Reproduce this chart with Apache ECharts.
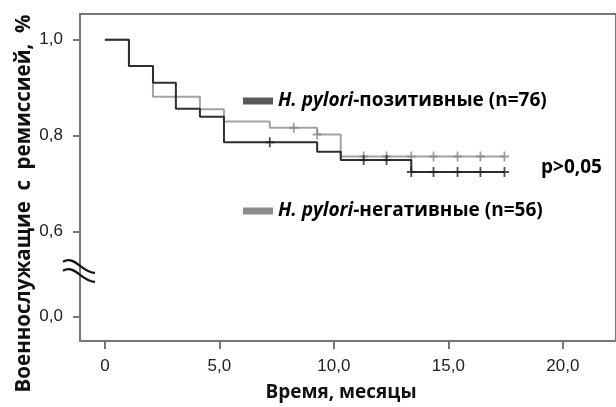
<!DOCTYPE html>
<html>
<head>
<meta charset="utf-8">
<script src="https://cdn.jsdelivr.net/npm/echarts@6/dist/echarts.min.js"></script>
<style>
  html, body { margin: 0; padding: 0; background: #fff; }
  #main { width: 616px; height: 407px; }
</style>
</head>
<body>
<div id="main"></div>
<script>
// Kaplan-Meier curves (time in months, share in remission)
const posName = "H. pylori-позитивные (n=76)";
const negName = "H. pylori-негативные (n=56)";

const posTimes = [0, 1.05, 2.1, 3.1, 4.15, 5.2, 9.27, 10.3, 13.38, 17.45];
const posSurv = [1.0, 0.945, 0.91, 0.856, 0.839, 0.786, 0.766, 0.749, 0.724, 0.724];
const posCensorTimes = [7.2, 11.3, 12.3, 13.38, 14.35, 15.4, 16.4, 17.45];
const posCensorSurv = [0.786, 0.749, 0.749, 0.724, 0.724, 0.724, 0.724, 0.724];

const negTimes = [0, 1.05, 2.1, 4.15, 5.2, 7.2, 9.27, 10.3, 17.45];
const negSurv = [1.0, 0.945, 0.881, 0.855, 0.829, 0.816, 0.802, 0.756, 0.756];
const negCensorTimes = [8.25, 9.27, 11.3, 12.3, 13.38, 14.35, 15.4, 16.4, 17.45];
const negCensorSurv = [0.816, 0.802, 0.756, 0.756, 0.756, 0.756, 0.756, 0.756, 0.756];

const xTicks = [0, 5, 10, 15, 20];
const yTicks = [1.0, 0.8, 0.6, 0.0];
const pText = "p>0,05";

// y axis is broken between 0.0 and 0.6: 0.0 sits a bit below 0.6
const BREAK_ZERO = 0.4227;
function mapY(v) { return v >= 0.6 ? v : BREAK_ZERO; }

function pairs(xs, ys) { return xs.map((x, i) => [x, ys[i]]); }

const plus = "path://M4,0L6,0L6,4L10,4L10,6L6,6L6,10L4,10L4,6L0,6L0,4L4,4Z";
const font = "'Open Sans', sans-serif";
const numFont = "'Liberation Sans', Arial, sans-serif";

const legendRich = {
  i: { fontStyle: "italic", fontWeight: "bold", fontSize: 19, fontFamily: font, color: "#000" },
  b: { fontWeight: "bold", fontSize: 19, fontFamily: font, color: "#000" }
};
function legendFmt(name) {
  const k = name.indexOf("-");
  return "{i|" + name.slice(0, k) + "}{b|" + name.slice(k) + "}";
}

const chart = echarts.init(document.getElementById("main"));

chart.setOption({
  animation: false,
  grid: {
    left: 80, top: 14, width: 560, height: 331,
    show: true, borderColor: "#777", borderWidth: 2
  },
  xAxis: {
    type: "value", min: -1.087, max: 22.32,
    axisLine: { show: false, onZero: false },
    splitLine: { show: false },
    axisTick: { length: 8, customValues: xTicks, lineStyle: { color: "#777", width: 2 } },
    axisLabel: {
      customValues: xTicks, margin: 17, fontSize: 17, fontFamily: numFont, color: "#222",
      formatter: v => v === 0 ? "0" : v.toFixed(1).replace(".", ",")
    },
    name: "Время, месяцы", nameLocation: "middle", nameGap: 42, nameMoveOverlap: false,
    nameTextStyle: { fontSize: 19, fontWeight: "bold", fontFamily: font, color: "#111", padding: [0, 14, 0, 0] }
  },
  yAxis: {
    type: "value", min: 0.3711, max: 1.0536,
    axisLine: { show: false, onZero: false },
    splitLine: { show: false },
    axisTick: { length: 7, customValues: yTicks.map(mapY), lineStyle: { color: "#777", width: 2 } },
    axisLabel: {
      customValues: yTicks.map(mapY), margin: 17, fontSize: 17, fontFamily: numFont, color: "#222",
      formatter: v => v < 0.5 ? "0,0" : v.toFixed(1).replace(".", ",")
    },
    name: "Военнослужащие  с  ремиссией,  %", nameLocation: "middle", nameGap: 45, nameMoveOverlap: false,
    nameTextStyle: { fontSize: 20.5, fontWeight: "bold", fontFamily: font, color: "#111", padding: [0, 52, 0, 0] }
  },
  legend: [
    {
      left: 243, top: 89, padding: 0, itemWidth: 30, itemHeight: 7, itemGap: 6,
      icon: "rect", selectedMode: false,
      data: [{ name: posName, itemStyle: { color: "#595959" } }],
      formatter: legendFmt, textStyle: { rich: legendRich, lineHeight: 24 }
    },
    {
      left: 243, top: 199, padding: 0, itemWidth: 30, itemHeight: 7, itemGap: 6,
      icon: "rect", selectedMode: false,
      data: [{ name: negName, itemStyle: { color: "#8c8c8c" } }],
      formatter: legendFmt, textStyle: { rich: legendRich, lineHeight: 24 }
    }
  ],
  title: {
    text: pText, left: 541, top: 158, padding: 0,
    textStyle: { fontSize: 19, fontWeight: "bold", fontFamily: font, color: "#000" }
  },
  series: [
    {
      name: negName, type: "line", step: "end", symbol: "none",
      data: pairs(negTimes, negSurv),
      lineStyle: { color: "#a3a3a3", width: 2 }, itemStyle: { color: "#a3a3a3" }, z: 2
    },
    {
      name: negName + " censored", type: "scatter", symbol: plus, symbolSize: [9, 10],
      data: pairs(negCensorTimes, negCensorSurv),
      itemStyle: { color: "#8a8a8a" }, z: 3
    },
    {
      name: posName, type: "line", step: "end", symbol: "none",
      data: pairs(posTimes, posSurv),
      lineStyle: { color: "#2e2e2e", width: 2 }, itemStyle: { color: "#2e2e2e" }, z: 4
    },
    {
      name: posName + " censored", type: "scatter", symbol: plus, symbolSize: [9, 10],
      data: pairs(posCensorTimes, posCensorSurv),
      itemStyle: { color: "#222" }, z: 5
    }
  ]
});

// "//" break mark on the y axis between 0.0 and 0.6
const bp = chart.convertToPixel({ gridIndex: 0 }, [-1.087, 0.5155]);
function breakCurve(dy) {
  return {
    type: "bezierCurve",
    shape: {
      x1: bp[0] - 17, y1: bp[1] - 10 + dy,
      cpx1: bp[0] - 5, cpy1: bp[1] - 17 + dy,
      cpx2: bp[0] + 2, cpy2: bp[1] + 1 + dy,
      x2: bp[0] + 15, y2: bp[1] + 1 + dy
    },
    style: { stroke: "#111", lineWidth: 2.2, fill: null },
    z: 10
  };
}
chart.setOption({ graphic: [breakCurve(0), breakCurve(9)] });
</script>
</body>
</html>
